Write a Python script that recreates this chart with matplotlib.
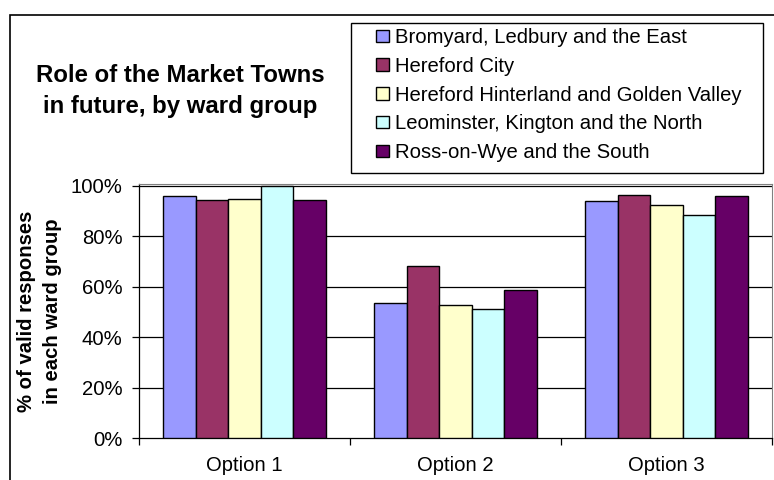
import numpy as np
import matplotlib.pyplot as plt
from matplotlib.patches import Rectangle
from matplotlib.container import BarContainer
from matplotlib.legend_handler import HandlerPatch, update_from_first_child

plt.rcParams["font.family"] = ["Liberation Sans", "DejaVu Sans"]

# Data (share of valid responses)
categories = ["Option 1", "Option 2", "Option 3"]
groups = [
    "Bromyard, Ledbury and the East",
    "Hereford City",
    "Hereford Hinterland and Golden Valley",
    "Leominster, Kington and the North",
    "Ross-on-Wye and the South",
]
bromyard = [0.960, 0.535, 0.940]
hereford_city = [0.941, 0.680, 0.964]
hinterland = [0.946, 0.527, 0.922]
leominster = [0.997, 0.509, 0.884]
ross = [0.941, 0.585, 0.959]
series = [bromyard, hereford_city, hinterland, leominster, ross]

colors = ["#9999FF", "#993366", "#FFFFCC", "#CCFFFF", "#660066"]

W, H = 774, 480
FS = 14.6
fig = plt.figure(figsize=(W / 100, H / 100), dpi=100)

# outer chart frame
fig.patches.append(Rectangle((9.5 / W, -0.1), 2.0, 1.1 - 15.5 / H,
                             transform=fig.transFigure, fill=False,
                             edgecolor="black", linewidth=1.2, zorder=0))

ax = fig.add_axes([139 / W, 1 - 438 / H, (772 - 139) / W, (438 - 184) / H])

x = np.arange(len(categories))
n = len(series)
group_w = 0.77
bw = group_w / n
for i, (vals, col, lab) in enumerate(zip(series, colors, groups)):
    ax.bar(x - group_w / 2 + bw * (i + 0.5), vals, width=bw, color=col,
           edgecolor="black", linewidth=1.0, label=lab, zorder=3)

ax.set_xlim(-0.5, len(categories) - 0.5)
ax.set_ylim(0, 1.006)
ax.set_yticks(np.arange(0, 1.01, 0.2))
ax.set_yticklabels([f"{int(round(v * 100))}%" for v in np.arange(0, 1.01, 0.2)],
                   fontsize=FS)
for y in np.arange(0.2, 1.01, 0.2):
    ax.axhline(y, color="black", linewidth=0.9, zorder=1)

# tick marks at category boundaries, labels at centres
ax.set_xticks(np.arange(-0.5, len(categories), 1.0))
ax.set_xticklabels([])
ax.set_xticks(x, minor=True)
ax.set_xticklabels(categories, minor=True, fontsize=FS)
ax.tick_params(axis="x", which="minor", length=0, pad=13)
ax.tick_params(axis="x", which="major", direction="out", length=5, width=0.9)
ax.tick_params(axis="y", direction="out", length=5, width=0.9, pad=7)

for s in ("top", "right"):
    ax.spines[s].set_color("#808080")
for s in ("left", "bottom"):
    ax.spines[s].set_color("black")
    ax.spines[s].set_linewidth(0.9)

ax.set_ylabel("% of valid responses\nin each ward group", fontsize=FS,
              fontweight="bold", linespacing=1.45, labelpad=6)

fig.text(180.5 / W, 1 - 91 / H, "Role of the Market Towns\nin future, by ward group",
         ha="center", va="center", fontsize=17.3, fontweight="bold",
         linespacing=1.42)


# legend: small square placed at the right end of the handle box
def square_right(legend, orig_handle, xdescent, ydescent, width, height, fontsize):
    s = 12.5 / 100 * 72  # points
    return Rectangle((width - xdescent - s, -ydescent + (height - s) / 2), s, s)


fig.patches.append(Rectangle((350.5 / W, 1 - 173 / H), (763 - 350.5) / W,
                             (173 - 22.5) / H, transform=fig.transFigure,
                             fill=False, edgecolor="black", linewidth=1.0))
leg = fig.legend(loc="upper left", bbox_to_anchor=(350 / W, 1 - 24 / H),
                 fontsize=FS, frameon=False,
                 handler_map={BarContainer: HandlerPatch(
                     patch_func=square_right, update_func=update_from_first_child)},
                 handlelength=1.7, handleheight=0.7, handletextpad=0.3,
                 labelspacing=0.48, borderpad=0.2, borderaxespad=0)

fig.savefig("out.png", dpi=100)
